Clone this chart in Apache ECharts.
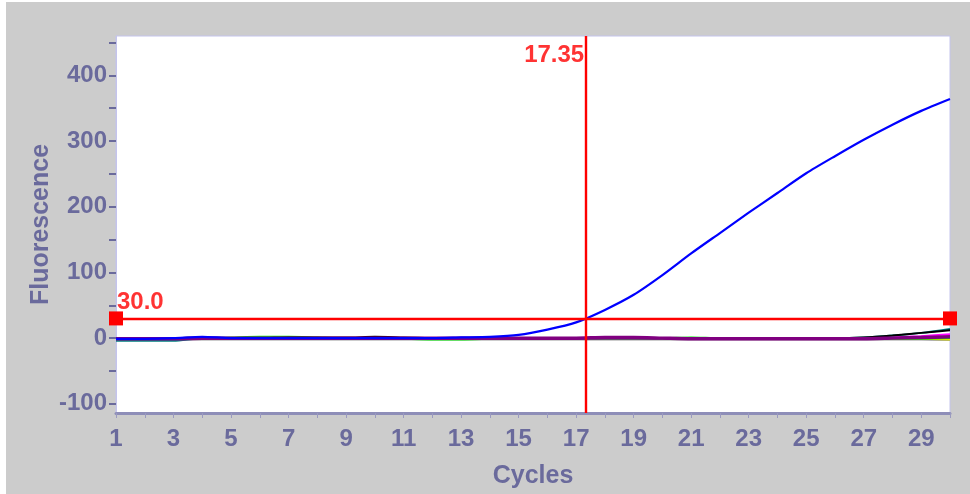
<!DOCTYPE html>
<html>
<head>
<meta charset="utf-8">
<script src="https://cdn.jsdelivr.net/npm/echarts@6/dist/echarts.min.js"></script>
<style>
  html, body { margin: 0; padding: 0; background: #ffffff; width: 970px; height: 494px; overflow: hidden; }
  #chart { position: absolute; left: 6px; top: 2px; width: 964px; height: 492px; }
</style>
</head>
<body>
<div id="chart"></div>
<script>
// Amplification curves: fluorescence per cycle
const cycles = [1,2,3,4,5,6,7,8,9,10,11,12,13,14,15,16,17,18,19,20,21,22,23,24,25,26,27,28,29,30];

const wellBlue    = [-1,-1,0,2,0,0,0,0,0,0,0,0,1,2,5,13,24,43,66,96,129,160,191,221,251,277,302,325,346,364];
const wellPurple  = [-1,-1,-1,0,0,0,0,0,0,0,0,0,0,0,0,0,0,1,1,0,-1,-1,-1,-1,-1,-1,-1,0,1,2];
const wellBlack   = [0,0,0,1,0,0,1,1,1,2,1,0,-1,-1,0,0,0,0,0,0,-1,0,0,0,0,0,1,4,8,12];
const wellTeal    = [-4,-4,-4,0,0,0,0,0,0,0,0,0,0,0,0,0,0,0,0,0,0,0,0,0,0,0,1,4,8,14];
const wellGreen   = [0,0,0,0,1,2,2,1,0,0,-1,-2,-2,-1,0,0,0,0,0,0,1,0,0,0,0,0,0,-1,-1,0];
const wellMagenta = [0,0,0,0,0,0,0,0,0,0,0,0,0,0,0,0,0,0,0,0,0,0,0,0,0,0,0,1,3,6];
const wellYellow  = [0,0,0,0,0,0,0,0,0,0,0,0,0,0,0,0,0,0,0,0,0,0,0,0,0,0,0,-1,-1,-2];
const wellGray    = [-2,-2,-2,-2,-2,-2,-2,-2,-2,-2,-2,-2,-2,-2,-2,-2,-2,-2,-2,-2,-2,-2,-2,-2,-2,-2,-2,-2,-2,-3];

// Threshold and crossing cycle
const thresholdValue = 30.0;
const crossingCycle = 17.35;

// Axis ticks and labels
const xTicks = cycles;
const xLabels = [1,3,5,7,9,11,13,15,17,19,21,23,25,27,29];
const yTicks = [-100,-50,0,50,100,150,200,250,300,350,400,450];
const yLabels = [-100,0,100,200,300,400];

const X_MIN = 1, X_MAX = 30;
const Y_MIN = -114, Y_MAX = 460;

const axisText = '#6a6a9c';
const fontFam = '"Liberation Sans", Arial, sans-serif';

function pairs(vals) { return cycles.map((c, i) => [c, vals[i]]); }

function curve(name, vals, color, width) {
  return {
    name, type: 'line', data: pairs(vals), showSymbol: false, smooth: 0.25,
    lineStyle: { color, width }, itemStyle: { color }, silent: true
  };
}

const chart = echarts.init(document.getElementById('chart'), null, { renderer: 'canvas' });

chart.setOption({
  animation: false,
  backgroundColor: '#cccccc',
  grid: {
    left: 110, right: 20, top: 34, bottom: 80,
    show: true, backgroundColor: '#ffffff', borderColor: '#c4c4ec', borderWidth: 1
  },
  xAxis: {
    type: 'value', min: X_MIN, max: X_MAX,
    name: 'Cycles', nameLocation: 'middle', nameGap: 51,
    nameTextStyle: { color: axisText, fontSize: 25, fontWeight: 'bold', fontFamily: fontFam },
    axisLine: { show: true, onZero: false, lineStyle: { color: '#8e8eb8', width: 3 } },
    axisTick: { show: true, length: 5, customValues: xTicks, lineStyle: { color: '#9a9ac0', width: 1 } },
    axisLabel: { customValues: xLabels, margin: 14, color: axisText, fontSize: 24, fontWeight: 'bold', fontFamily: fontFam },
    splitLine: { show: false }
  },
  yAxis: {
    type: 'value', min: Y_MIN, max: Y_MAX,
    name: 'Fluorescence', nameLocation: 'middle', nameGap: 62, nameRotate: 90,
    nameMoveOverlap: false,
    nameTextStyle: { color: axisText, fontSize: 25, fontWeight: 'bold', fontFamily: fontFam },
    axisLine: { show: true, lineStyle: { color: '#c4c4ec', width: 1 } },
    axisTick: { show: true, length: 7, customValues: yTicks, lineStyle: { color: '#6a6a9c', width: 2 } },
    axisLabel: { customValues: yLabels, margin: 9, color: axisText, fontSize: 24, fontWeight: 'bold', fontFamily: fontFam },
    splitLine: { show: false }
  },
  series: [
    curve('gray', wellGray, '#9a9a9a', 2),
    curve('yellow', wellYellow, '#e6e600', 2),
    curve('green', wellGreen, '#00ee00', 2),
    curve('magenta', wellMagenta, '#ff00ff', 2),
    curve('teal', wellTeal, '#008080', 2),
    curve('black', wellBlack, '#000000', 2),
    curve('purple', wellPurple, '#800080', 3.5),
    curve('blue', wellBlue, '#0000ff', 2.2),
    {
      name: 'threshold', type: 'line', data: [], clip: false, z: 5,
      markLine: {
        silent: true, animation: false,
        label: { show: false },
        lineStyle: { color: '#ff0000', width: 2.4, type: 'solid' },
        data: [
          [
            { coord: [X_MIN, thresholdValue], symbol: 'rect', symbolSize: 14 },
            { coord: [X_MAX, thresholdValue], symbol: 'rect', symbolSize: 14 }
          ],
          [
            { coord: [crossingCycle, Y_MIN], symbol: 'none' },
            { coord: [crossingCycle, Y_MAX], symbol: 'none' }
          ]
        ]
      }
    },
    {
      name: 'markers', type: 'scatter', clip: false, z: 6, silent: true,
      symbol: 'circle', symbolSize: 0, itemStyle: { color: 'rgba(0,0,0,0)' },
      data: [
        {
          value: [X_MIN, thresholdValue],
          label: {
            show: true, formatter: thresholdValue.toFixed(1), position: [1, -28],
            color: '#ff0000', fontSize: 24, fontWeight: 'bold', fontFamily: fontFam
          }
        },
        {
          value: [crossingCycle, Y_MAX],
          label: {
            show: true, formatter: crossingCycle.toFixed(2), position: [-2, 7], align: 'right',
            color: '#ff0000', fontSize: 24, fontWeight: 'bold', fontFamily: fontFam
          }
        }
      ]
    }
  ]
});
</script>
</body>
</html>
